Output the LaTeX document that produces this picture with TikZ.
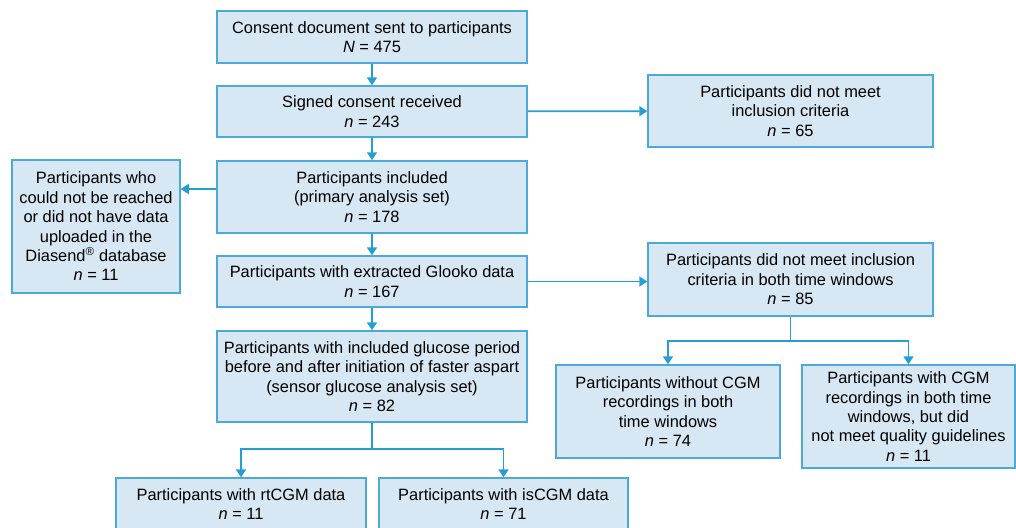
\documentclass[tikz,border=0pt]{standalone}
\usepackage{fontspec}
\setmainfont{Liberation Sans}
\usetikzlibrary{arrows.meta,calc}
\definecolor{fc_fill}{RGB}{215, 231, 244}
\definecolor{fc_line}{RGB}{76, 170, 218}
\definecolor{fc_arrow}{RGB}{38, 158, 212}
\tikzstyle{bx}=[rectangle,fill=fc_fill,draw=fc_line,line width=1.5pt,
  inner sep=0pt,align=center,font=\fontsize{16.4}{19.4}\selectfont]
\tikzstyle{ln}=[draw=fc_arrow,line width=1.8pt]
\tikzstyle{ar}=[ln,-{Triangle[width=10pt,length=8pt]}]

\begin{document}
\begin{tikzpicture}[x=1pt, y=-1pt]
    \useasboundingbox (0,0) rectangle (1016,527);
    \clip (0,0) rectangle (1016,527);
    \node [style=bx, minimum width=310, minimum height=52] (1) at (372, 37)
      {Consent document sent to participants\\\textit{N} = 475};
    \node [style=bx, minimum width=310, minimum height=51] (2) at (372, 111.5)
      {Signed consent received\\\textit{n} = 243};
    \node [style=bx, minimum width=285, minimum height=72] (3) at (790.5, 111)
      {Participants did not meet\\inclusion criteria\\\textit{n} = 65};
    \node [style=bx, minimum width=310, minimum height=72] (4) at (372, 197)
      {Participants included\\(primary analysis set)\\\textit{n} = 178};
    \node [style=bx, minimum width=168, minimum height=133] (5) at (96, 226.5)
      {Participants who\\could not be reached\\or did not have data\\uploaded in the\\Diasend\textsuperscript{®} database\\\textit{n} = 11};
    \node [style=bx, minimum width=310, minimum height=51] (6) at (372, 281.5)
      {Participants with extracted Glooko data\\\textit{n} = 167};
    \node [style=bx, minimum width=285, minimum height=73] (7) at (790.5, 279.5)
      {Participants did not meet inclusion\\criteria in both time windows\\\textit{n} = 85};
    \node [style=bx, minimum width=310, minimum height=91] (8) at (372, 376.5)
      {Participants with included glucose period\\before and after initiation of faster aspart\\(sensor glucose analysis set)\\\textit{n} = 82};
    \node [style=bx, minimum width=224, minimum height=93] (9) at (668, 411.5)
      {Participants without CGM\\recordings in both\\time windows\\\textit{n} = 74};
    \node [style=bx, minimum width=213, minimum height=103] (10) at (908.5, 416.5)
      {Participants with CGM\\recordings in both time\\windows, but did\\not meet quality guidelines\\\textit{n} = 11};
    \node [style=bx, minimum width=250, minimum height=52] (11) at (241, 504)
      {Participants with rtCGM data\\\textit{n} = 11};
    \node [style=bx, minimum width=249, minimum height=52] (12) at (503.5, 504)
      {Participants with isCGM data\\\textit{n} = 71};
    \coordinate (71) at ($(7.south)+(0,24)$);
    \coordinate (81) at ($(8.south)+(0,26)$);
    \draw [style=ar] (1) to (2);
    \draw [style=ar] (2) to (4);
    \draw [style=ar] (2) to (3);
    \draw [style=ar] ([yshift=8pt]4.west) to ([yshift=8pt]4.west -| 5.east);
    \draw [style=ar] (4) to (6);
    \draw [style=ar] (6) to (8);
    \draw [style=ar] (6.east) to (7.west |- 6.east);
    \draw [style=ln] (7.south) to (71);
    \draw [style=ar] (71) -| (9.north);
    \draw [style=ar] (71) -| (10.north);
    \draw [style=ln] (8.south) to (81);
    \draw [style=ar] (81) -| (11.north);
    \draw [style=ar] (81) -| (12.north);
\end{tikzpicture}
\end{document}
